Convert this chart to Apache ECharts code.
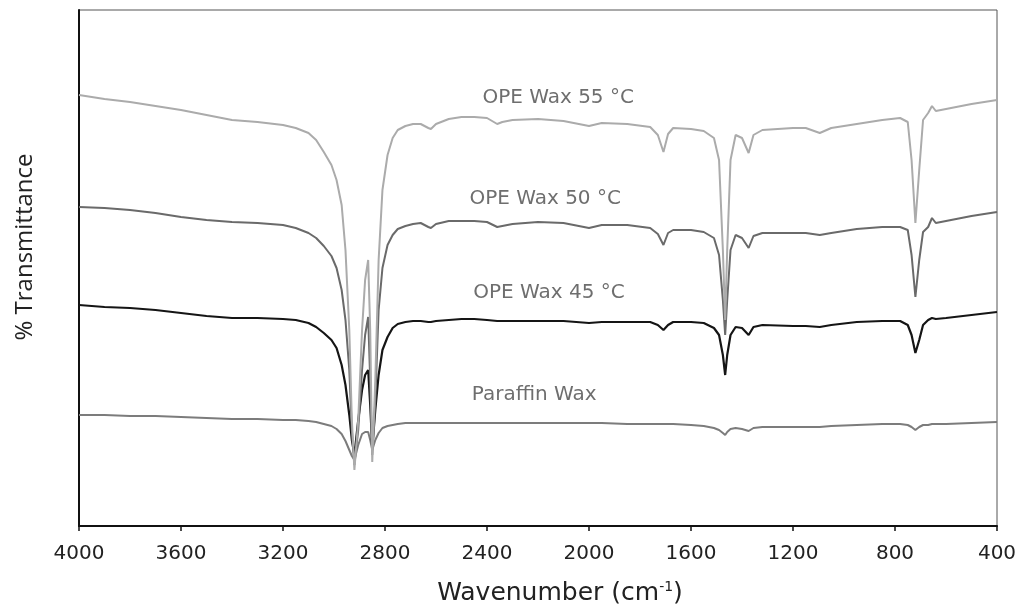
<!DOCTYPE html>
<html>
<head>
<meta charset="utf-8">
<script src="https://cdn.jsdelivr.net/npm/echarts@6/dist/echarts.min.js"></script>
<style>html,body{margin:0;padding:0;background:#fff}#c{width:1030px;height:609px}</style>
</head>
<body>
<div id="c"></div>
<script>
// Wavenumber grid (cm-1) shared by all spectra
var wavenumber = [4000,3900,3800,3700,3600,3500,3400,3300,3200,3150,3100,3070,3040,3010,2990,2970,2955,2940,2930,2920,2905,2890,2878,2866,2858,2850,2838,2825,2810,2790,2770,2750,2720,2690,2660,2630,2620,2600,2550,2500,2450,2400,2360,2340,2300,2200,2100,2000,1950,1850,1760,1730,1708,1690,1670,1600,1550,1510,1490,1475,1466,1458,1445,1425,1400,1374,1355,1320,1200,1150,1095,1050,950,850,780,750,735,720,705,690,670,655,640,600,500,400];

// Relative transmittance (arbitrary units, offset stacks)
var ope55 = [431,427,424,420,416,411,406,404,401,398,393,386,374,361,346,321,276,196,106,56,106,196,246,266,196,64,146,266,336,371,388,396,400,402,402,398,397,402,407,409,409,408,402,404,406,407,405,400,403,402,399,391,374,392,398,397,395,388,366,276,206,276,366,391,388,373,391,396,398,398,393,398,402,406,408,404,366,303,356,406,413,420,415,417,422,426];
var ope50 = [319,318,316,313,309,306,304,303,301,298,293,288,280,270,258,236,206,156,96,61,96,156,191,209,146,71,126,216,258,281,291,297,300,302,303,299,298,302,305,305,305,304,299,300,302,304,303,298,301,301,298,292,281,293,296,296,294,288,271,226,191,226,276,291,288,278,290,293,293,293,291,293,297,299,299,296,271,229,266,294,299,308,303,305,310,314];
var ope45 = [221,219,218,216,213,210,208,208,207,206,203,199,193,186,178,161,141,111,86,71,106,136,151,156,121,78,116,151,176,189,198,202,204,205,205,204,204,205,206,207,207,206,205,205,205,205,205,203,204,204,204,201,196,201,204,204,203,198,191,171,151,171,191,199,198,191,199,201,200,200,199,201,204,205,205,201,191,173,186,201,206,208,207,208,211,214];
var paraffin = [111,111,110,110,109,108,107,107,106,106,105,104,102,100,97,92,85,76,70,66,81,92,94,94,86,76,86,93,98,100,101,102,103,103,103,103,103,103,103,103,103,103,103,103,103,103,103,103,103,102,102,102,102,102,102,101,100,98,96,93,91,94,97,98,97,95,98,99,99,99,99,100,101,102,102,101,99,96,99,101,101,102,102,102,103,104];

var xTicks = [4000,3600,3200,2800,2400,2000,1600,1200,800,400];

// Curve labels: text, wavenumber, level
var labelText = ['OPE Wax 55 \u00B0C','OPE Wax 50 \u00B0C','OPE Wax 45 \u00B0C','Paraffin Wax'];
var labelWn = [2121,2172,2157,2215];
var labelLevel = [428,327,233,131];

function pairs(v){ return wavenumber.map(function(w,i){ return [w, v[i]]; }); }

var chart = echarts.init(document.getElementById('c'));
var lineBase = {type:'line', symbol:'none', smooth:false, animation:false};
chart.setOption({
  animation:false,
  backgroundColor:'#fff',
  grid:{left:79, right:33, top:10, bottom:83, show:true, borderColor:'#555', borderWidth:1},
  xAxis:{
    type:'value', min:400, max:4000, interval:400, inverse:true,
    axisLine:{show:true, onZero:false, lineStyle:{color:'#111', width:2}},
    axisTick:{show:true, inside:false, length:5, lineStyle:{color:'#111', width:1.5}},
    axisLabel:{show:true, margin:18, fontFamily:'DejaVu Sans', fontSize:20, color:'#222',
      formatter:function(v){ return xTicks.indexOf(v) >= 0 ? String(v) : ''; }},
    splitLine:{show:false}
  },
  yAxis:{
    type:'value', min:0, max:516,
    axisLine:{show:true, lineStyle:{color:'#111', width:2}},
    axisTick:{show:false}, axisLabel:{show:false}, splitLine:{show:false}
  },
  graphic:[
    {type:'text', x:25, y:247, rotation:Math.PI/2,
     style:{text:'% Transmittance', fontFamily:'Open Sans', fontSize:24, fill:'#222',
            align:'center', verticalAlign:'middle'}},
    {type:'text', x:560, y:593,
     style:{text:'Wavenumber (cm{sup|-1})', fontFamily:'DejaVu Sans', fontSize:25, fill:'#222',
            align:'center', verticalAlign:'middle',
            rich:{sup:{fontFamily:'DejaVu Sans', fontSize:14, fill:'#222', verticalAlign:'top', padding:[0,0,12,0]}}}}
  ],
  series:[
    Object.assign({}, lineBase, {name:'Paraffin Wax', data:pairs(paraffin), lineStyle:{color:'#7c7c7c', width:2}}),
    Object.assign({}, lineBase, {name:'OPE Wax 45 \u00B0C', data:pairs(ope45), lineStyle:{color:'#151515', width:2.2}}),
    Object.assign({}, lineBase, {name:'OPE Wax 50 \u00B0C', data:pairs(ope50), lineStyle:{color:'#6a6a6a', width:2}}),
    Object.assign({}, lineBase, {name:'OPE Wax 55 \u00B0C', data:pairs(ope55), lineStyle:{color:'#ababab', width:2}}),
    {type:'scatter', symbolSize:0, animation:false, silent:true,
     data: labelText.map(function(t,i){ return {value:[labelWn[i], labelLevel[i]], name:t}; }),
     label:{show:true, position:'inside', formatter:function(p){return p.name;},
            fontFamily:'DejaVu Sans', fontSize:20, color:'#4a4a4a'}}
  ]
});
</script>
</body>
</html>
